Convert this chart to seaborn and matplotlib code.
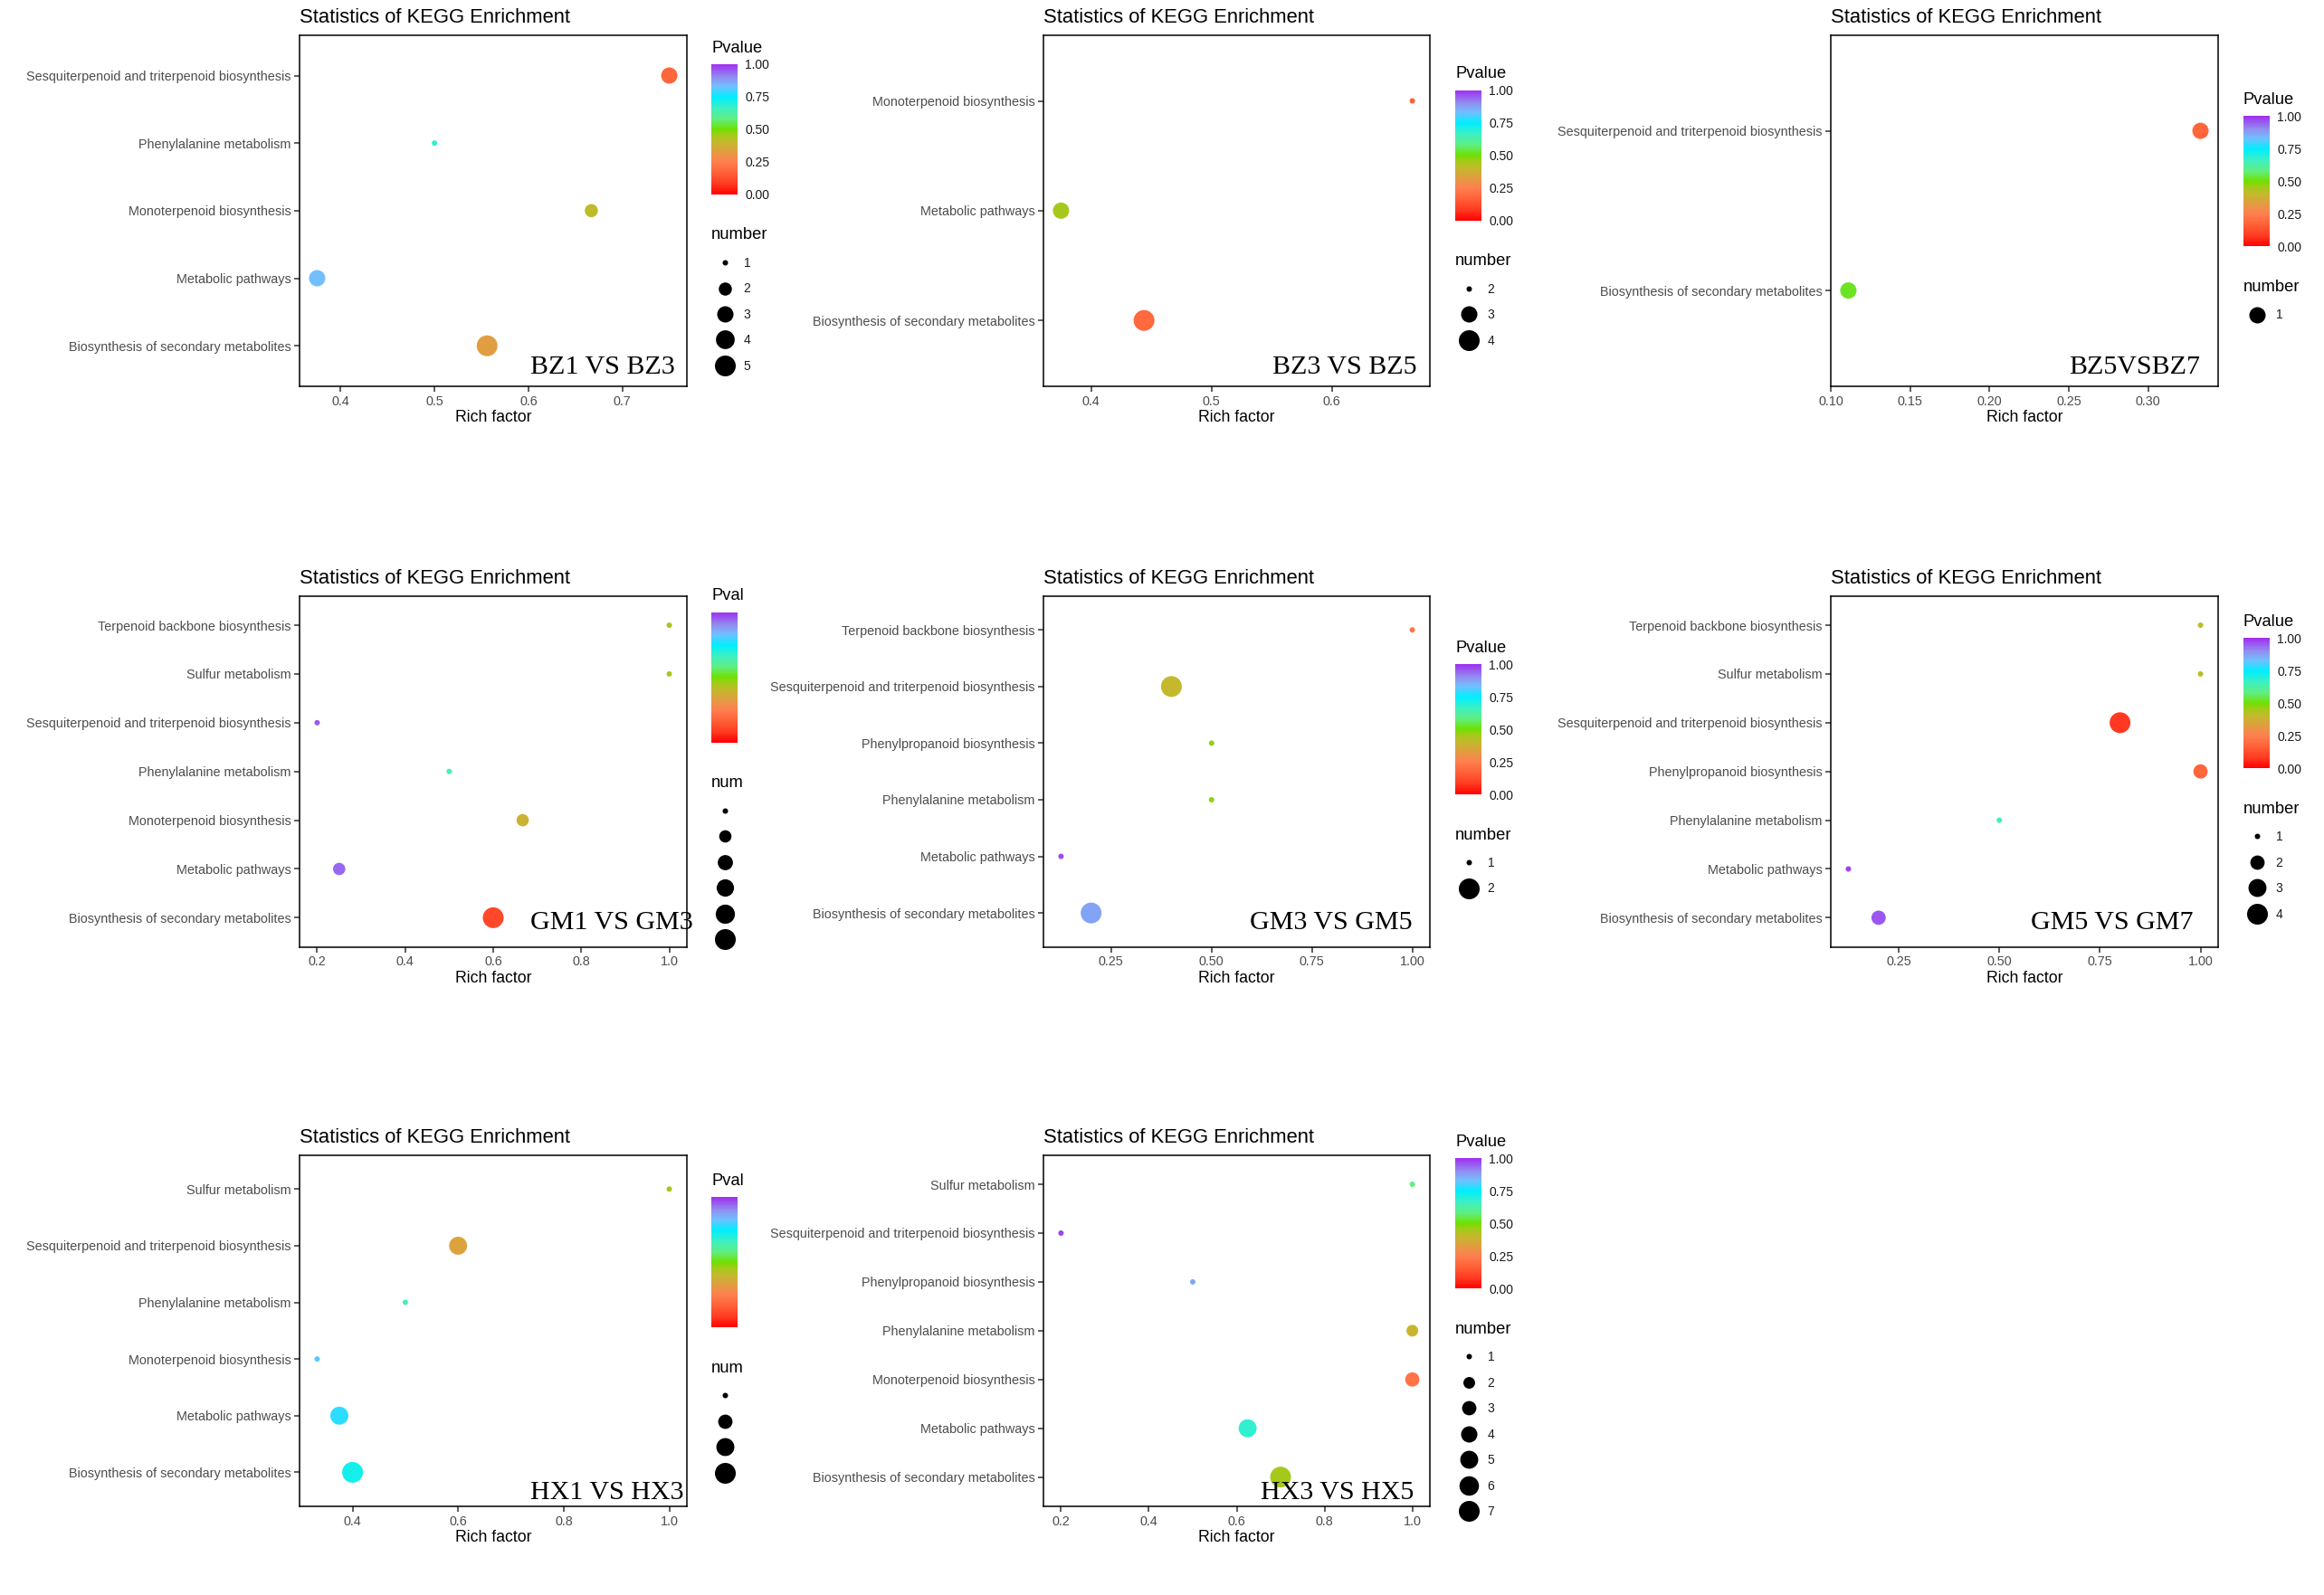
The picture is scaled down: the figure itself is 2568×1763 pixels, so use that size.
import numpy as np
import pandas as pd
import matplotlib
matplotlib.use("Agg")
import matplotlib.pyplot as plt
import seaborn as sns
from matplotlib.colors import LinearSegmentedColormap, Normalize
from matplotlib.cm import ScalarMappable
from matplotlib.lines import Line2D
from matplotlib.transforms import Bbox, TransformedBbox

sns.set_theme(style="white")
plt.rcParams['font.family'] = ['Liberation Sans', 'DejaVu Sans']

# pathway names
BIO = "Biosynthesis of secondary metabolites"
MET = "Metabolic pathways"
MONO = "Monoterpenoid biosynthesis"
PHE = "Phenylalanine metabolism"
PPB = "Phenylpropanoid biosynthesis"
SESQ = "Sesquiterpenoid and triterpenoid biosynthesis"
SUL = "Sulfur metabolism"
TERP = "Terpenoid backbone biosynthesis"

# BZ1 VS BZ3
bz1_bz3_path = [BIO, MET, MONO, PHE, SESQ]
bz1_bz3_rich = [0.556, 0.375, 0.667, 0.5, 0.75]
bz1_bz3_num = [5, 3, 2, 1, 3]
bz1_bz3_p = [0.33, 0.83, 0.41, 0.68, 0.18]
bz1_bz3_ticks = [0.4, 0.5, 0.6, 0.7]
bz1_bz3_ticklabels = ["0.4", "0.5", "0.6", "0.7"]

# BZ3 VS BZ5
bz3_bz5_path = [BIO, MET, MONO]
bz3_bz5_rich = [0.444, 0.375, 0.667]
bz3_bz5_num = [4, 3, 2]
bz3_bz5_p = [0.19, 0.45, 0.17]
bz3_bz5_ticks = [0.4, 0.5, 0.6]
bz3_bz5_ticklabels = ["0.4", "0.5", "0.6"]

# BZ5 VS BZ7
bz5_bz7_path = [BIO, SESQ]
bz5_bz7_rich = [0.111, 0.333]
bz5_bz7_num = [1, 1]
bz5_bz7_p = [0.52, 0.18]
bz5_bz7_ticks = [0.10, 0.15, 0.20, 0.25, 0.30]
bz5_bz7_ticklabels = ["0.10", "0.15", "0.20", "0.25", "0.30"]

# GM1 VS GM3
gm1_gm3_path = [BIO, MET, MONO, PHE, SESQ, SUL, TERP]
gm1_gm3_rich = [0.6, 0.25, 0.667, 0.5, 0.2, 1.0, 1.0]
gm1_gm3_num = [6, 2, 2, 1, 1, 1, 1]
gm1_gm3_p = [0.11, 0.94, 0.38, 0.65, 0.95, 0.44, 0.44]
gm1_gm3_ticks = [0.2, 0.4, 0.6, 0.8, 1.0]
gm1_gm3_ticklabels = ["0.2", "0.4", "0.6", "0.8", "1.0"]

# GM3 VS GM5
gm3_gm5_path = [BIO, MET, PHE, PPB, SESQ, TERP]
gm3_gm5_rich = [0.2, 0.125, 0.5, 0.5, 0.4, 1.0]
gm3_gm5_num = [2, 1, 1, 1, 2, 1]
gm3_gm5_p = [0.87, 0.97, 0.47, 0.47, 0.40, 0.23]
gm3_gm5_ticks = [0.25, 0.50, 0.75, 1.00]
gm3_gm5_ticklabels = ["0.25", "0.50", "0.75", "1.00"]

# GM5 VS GM7
gm5_gm7_path = [BIO, MET, PHE, PPB, SESQ, SUL, TERP]
gm5_gm7_rich = [0.2, 0.125, 0.5, 1.0, 0.8, 1.0, 1.0]
gm5_gm7_num = [2, 1, 1, 2, 4, 1, 1]
gm5_gm7_p = [0.96, 0.98, 0.65, 0.18, 0.08, 0.42, 0.42]
gm5_gm7_ticks = [0.25, 0.50, 0.75, 1.00]
gm5_gm7_ticklabels = ["0.25", "0.50", "0.75", "1.00"]

# HX1 VS HX3
hx1_hx3_path = [BIO, MET, MONO, PHE, SESQ, SUL]
hx1_hx3_rich = [0.4, 0.375, 0.333, 0.5, 0.6, 1.0]
hx1_hx3_num = [4, 3, 1, 1, 3, 1]
hx1_hx3_p = [0.72, 0.78, 0.81, 0.64, 0.34, 0.45]
hx1_hx3_ticks = [0.4, 0.6, 0.8, 1.0]
hx1_hx3_ticklabels = ["0.4", "0.6", "0.8", "1.0"]

# HX3 VS HX5
hx3_hx5_path = [BIO, MET, MONO, PHE, PPB, SESQ, SUL]
hx3_hx5_rich = [0.7, 0.625, 1.0, 1.0, 0.5, 0.2, 1.0]
hx3_hx5_num = [7, 5, 3, 2, 1, 1, 1]
hx3_hx5_p = [0.45, 0.68, 0.22, 0.39, 0.87, 0.98, 0.58]
hx3_hx5_ticks = [0.2, 0.4, 0.6, 0.8, 1.0]
hx3_hx5_ticklabels = ["0.2", "0.4", "0.6", "0.8", "1.0"]

pv_ticks = [0.0, 0.25, 0.5, 0.75, 1.0]
pv_ticklabels = ["0.00", "0.25", "0.50", "0.75", "1.00"]

# rainbow-like gradient of the Pvalue bar
cmap = LinearSegmentedColormap.from_list("pval", [
    (0.00, "#FF0000"), (0.08, "#FF3A22"), (0.17, "#FF6238"), (0.25, "#FF7F50"),
    (0.33, "#E09E40"), (0.40, "#C4B82C"), (0.46, "#A0CC18"), (0.50, "#70E000"),
    (0.58, "#60EE80"), (0.66, "#40F0C0"), (0.75, "#00EEFF"), (0.83, "#70C0FF"),
    (0.90, "#9090F0"), (1.00, "#A030F0"),
])

FIG_W, FIG_H, DPI = 2568, 1763, 100
PX2PT = 72 / DPI

fig = plt.figure(figsize=(FIG_W / DPI, FIG_H / DPI), dpi=DPI)
fig.patch.set_facecolor("white")


def px_box(x0, y0, x1, y1):
    return [x0 / FIG_W, 1 - y1 / FIG_H, (x1 - x0) / FIG_W, (y1 - y0) / FIG_H]


def fx(x):
    return x / FIG_W


def fy(y):
    return 1 - y / FIG_H


def dot_diameter(n, lo, hi):
    # ggplot-like area scale, diameter in pixels
    t = 0.5 if hi == lo else (n - lo) / (hi - lo)
    return 6 + np.sqrt(t) * 17


col_x = [(331, 759), (1153, 1580), (2023, 2451)]
row_y = [(38.7, 427), (658.7, 1046.7), (1276.7, 1665)]
row_off = [0, 620, 1238]
legend_x = [786, 1608, 2479]

panels = [
    ("BZ1 VS BZ3", bz1_bz3_path, bz1_bz3_rich, bz1_bz3_num, bz1_bz3_p, bz1_bz3_ticks, bz1_bz3_ticklabels, 0, 0, (586, 413), None),
    ("BZ3 VS BZ5", bz3_bz5_path, bz3_bz5_rich, bz3_bz5_num, bz3_bz5_p, bz3_bz5_ticks, bz3_bz5_ticklabels, 1, 0, (1406, 413), None),
    ("BZ5VSBZ7", bz5_bz7_path, bz5_bz7_rich, bz5_bz7_num, bz5_bz7_p, bz5_bz7_ticks, bz5_bz7_ticklabels, 2, 0, (2286, 413), None),
    ("GM1 VS GM3", gm1_gm3_path, gm1_gm3_rich, gm1_gm3_num, gm1_gm3_p, gm1_gm3_ticks, gm1_gm3_ticklabels, 0, 1, (586, 1027), 821),
    ("GM3 VS GM5", gm3_gm5_path, gm3_gm5_rich, gm3_gm5_num, gm3_gm5_p, gm3_gm5_ticks, gm3_gm5_ticklabels, 1, 1, (1381, 1027), None),
    ("GM5 VS GM7", gm5_gm7_path, gm5_gm7_rich, gm5_gm7_num, gm5_gm7_p, gm5_gm7_ticks, gm5_gm7_ticklabels, 2, 1, (2244, 1027), None),
    ("HX1 VS HX3", hx1_hx3_path, hx1_hx3_rich, hx1_hx3_num, hx1_hx3_p, hx1_hx3_ticks, hx1_hx3_ticklabels, 0, 2, (586, 1657), 821),
    ("HX3 VS HX5", hx3_hx5_path, hx3_hx5_rich, hx3_hx5_num, hx3_hx5_p, hx3_hx5_ticks, hx3_hx5_ticklabels, 1, 2, (1393, 1657), None),
]

for name, path, rich, num, pval, ticks, ticklabels, col, row, (lab_x, lab_y), clip in panels:
    df = pd.DataFrame({"path": path, "rich": rich, "number": num, "pvalue": pval})
    # last pathway alphabetically goes on top
    df = df.sort_values("path", ascending=False).reset_index(drop=True)

    lo, hi = min(num), max(num)
    levels = list(range(lo, hi + 1))
    areas = {n: (dot_diameter(n, lo, hi) * PX2PT) ** 2 for n in levels}

    x0, x1 = col_x[col]
    y0, y1 = row_y[row]
    ax = fig.add_axes(px_box(x0, y0, x1, y1))
    sns.scatterplot(data=df, x="rich", y="path", hue="pvalue", hue_norm=(0, 1),
                    palette=cmap, size="number", sizes=areas, linewidth=0,
                    legend=False, ax=ax)

    ax.set_ylim(len(df) - 0.4, -0.6)
    pad = 0.05 * (max(rich) - min(rich))
    ax.set_xlim(min(rich) - pad, max(rich) + pad)
    ax.set_xticks(ticks, ticklabels)

    for sp in ax.spines.values():
        sp.set_visible(True)
        sp.set_color("black")
        sp.set_linewidth(1.1)
    ax.tick_params(left=True, bottom=True, direction="out", length=4, width=1.1,
                   color="#333333", labelsize=10.4, labelcolor="#4D4D4D", pad=3)
    ax.grid(False)
    ax.set_ylabel("")
    ax.set_xlabel("Rich factor", fontsize=12.7, color="black", labelpad=2)
    ax.set_title("Statistics of KEGG Enrichment", loc="left", fontsize=15.8,
                 color="black", pad=10)

    # group label
    fig.text(fx(lab_x), fy(lab_y), name, family=["Liberation Serif", "DejaVu Serif"],
             fontsize=21.6, ha="left", va="baseline", color="black")

    # Pvalue colour bar, legend block centred on the panel
    off = row_off[row] + (5 - len(levels)) * 14.35
    lx = legend_x[col]
    cax = fig.add_axes(px_box(lx, 71 + off, lx + 29, 215 + off))
    cb = fig.colorbar(ScalarMappable(norm=Normalize(0, 1), cmap=cmap), cax=cax)
    cb.outline.set_visible(False)
    cb.set_ticks(pv_ticks, labels=pv_ticklabels)
    cax.tick_params(axis="y", direction="in", length=6, width=1.2, color="white",
                    left=True, right=True, labelsize=10, labelcolor="#1A1A1A", pad=6,
                    labelright=clip is None)

    t_p = fig.text(fx(lx), fy(53 + off), "Pvalue", ha="left", va="center",
                   fontsize=13.2, color="black")
    t_n = fig.text(fx(lx), fy(260 + off), "number", ha="left", va="center",
                   fontsize=13.2, color="black")

    handles = [Line2D([], [], ls="", marker="o",
                      markersize=dot_diameter(n, lo, hi) * PX2PT,
                      markerfacecolor="black", markeredgewidth=0)
               for n in levels]
    leg = fig.legend(handles, [str(n) for n in levels], loc="upper left",
                     bbox_to_anchor=(fx(lx + 1), fy(292 + off - 8)), frameon=False,
                     borderpad=0, borderaxespad=0, handlelength=2,
                     handletextpad=0.5, labelspacing=1.04, fontsize=10,
                     labelcolor="#1A1A1A")

    if clip is not None:
        box = TransformedBbox(Bbox.from_extents(0, 0, fx(clip), 1), fig.transFigure)
        for t in [t_p, t_n] + leg.get_texts():
            t.set_clip_box(box)
            t.set_clip_on(True)

fig.savefig("out.png", dpi=DPI, facecolor="white")
